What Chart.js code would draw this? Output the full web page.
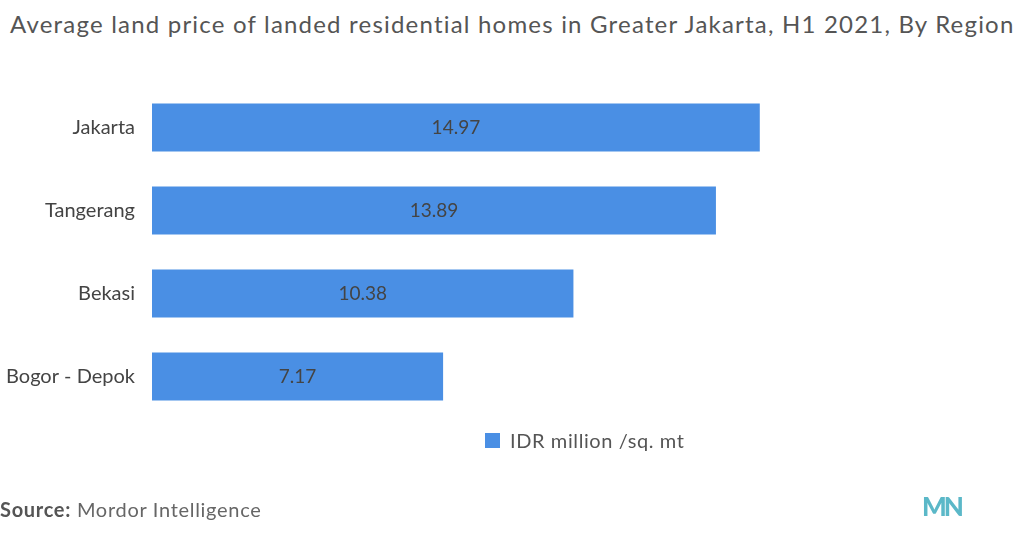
<!DOCTYPE html>
<html><head><meta charset="utf-8">
<script src="https://cdn.jsdelivr.net/npm/chart.js@4"></script>
<style>
body{margin:0;width:1024px;height:535px;overflow:hidden;background:#fff;font-family:Lato,"Open Sans",sans-serif;position:relative}
#t{position:absolute;left:10px;top:9px;font-size:24px;letter-spacing:1.2px;color:#555;white-space:nowrap}
#lg{position:absolute;left:485px;top:428px;font-size:20px;letter-spacing:0.6px;color:#555;display:flex;align-items:center}
#lg span{display:inline-block;width:15px;height:15px;background:#4a8fe4;margin-right:10px}
#src{position:absolute;left:0;top:497px;font-size:20px;letter-spacing:0.7px;color:#666}
#logo{position:absolute;left:922px;top:490px;font-size:26px;font-weight:900;color:#5bb8c8;letter-spacing:-3px}
canvas{position:absolute;left:0;top:0}
</style></head><body>
<div id="t">Average land price of landed residential homes in Greater Jakarta, H1 2021, By Region</div>
<div id="wrap" style="position:absolute;left:0;top:0;width:1024px;height:535px"><canvas id="c"></canvas></div>
<div id="lg"><span></span>IDR million /sq. mt</div>
<div id="src"><b style="color:#555;font-weight:700">Source:</b> Mordor Intelligence</div>
<div id="logo">MN</div>
<script>
const categories=["Jakarta","Tangerang","Bekasi","Bogor - Depok"];
const values=[14.97,13.89,10.38,7.17];
const seriesName="IDR million /sq. mt";
const labelPlugin={id:"lbl",afterDatasetsDraw(ch){const ctx=ch.ctx;const m=ch.getDatasetMeta(0);ctx.save();ctx.font="19px Lato";ctx.fillStyle="#444";ctx.textAlign="center";ctx.textBaseline="middle";
m.data.forEach((b,i)=>{ctx.fillText(values[i].toFixed(2),(b.x+b.base)/2,b.y);});ctx.restore();}};
new Chart(document.getElementById("c"),{type:"bar",
data:{labels:categories,datasets:[{label:seriesName,data:values,backgroundColor:"#4a8fe4",barPercentage:0.58,categoryPercentage:1}]},
options:{indexAxis:"y",responsive:true,maintainAspectRatio:false,animation:false,
layout:{padding:{top:86,bottom:117,right:60,left:0}},
plugins:{legend:{display:false},tooltip:{enabled:false}},
scales:{x:{display:false,min:0,max:20},
y:{grid:{display:false},border:{display:false},ticks:{color:"#444",font:{size:20,family:"Lato"},padding:9},afterFit(s){s.width=152;}}}},
plugins:[labelPlugin]});
</script></body></html>
